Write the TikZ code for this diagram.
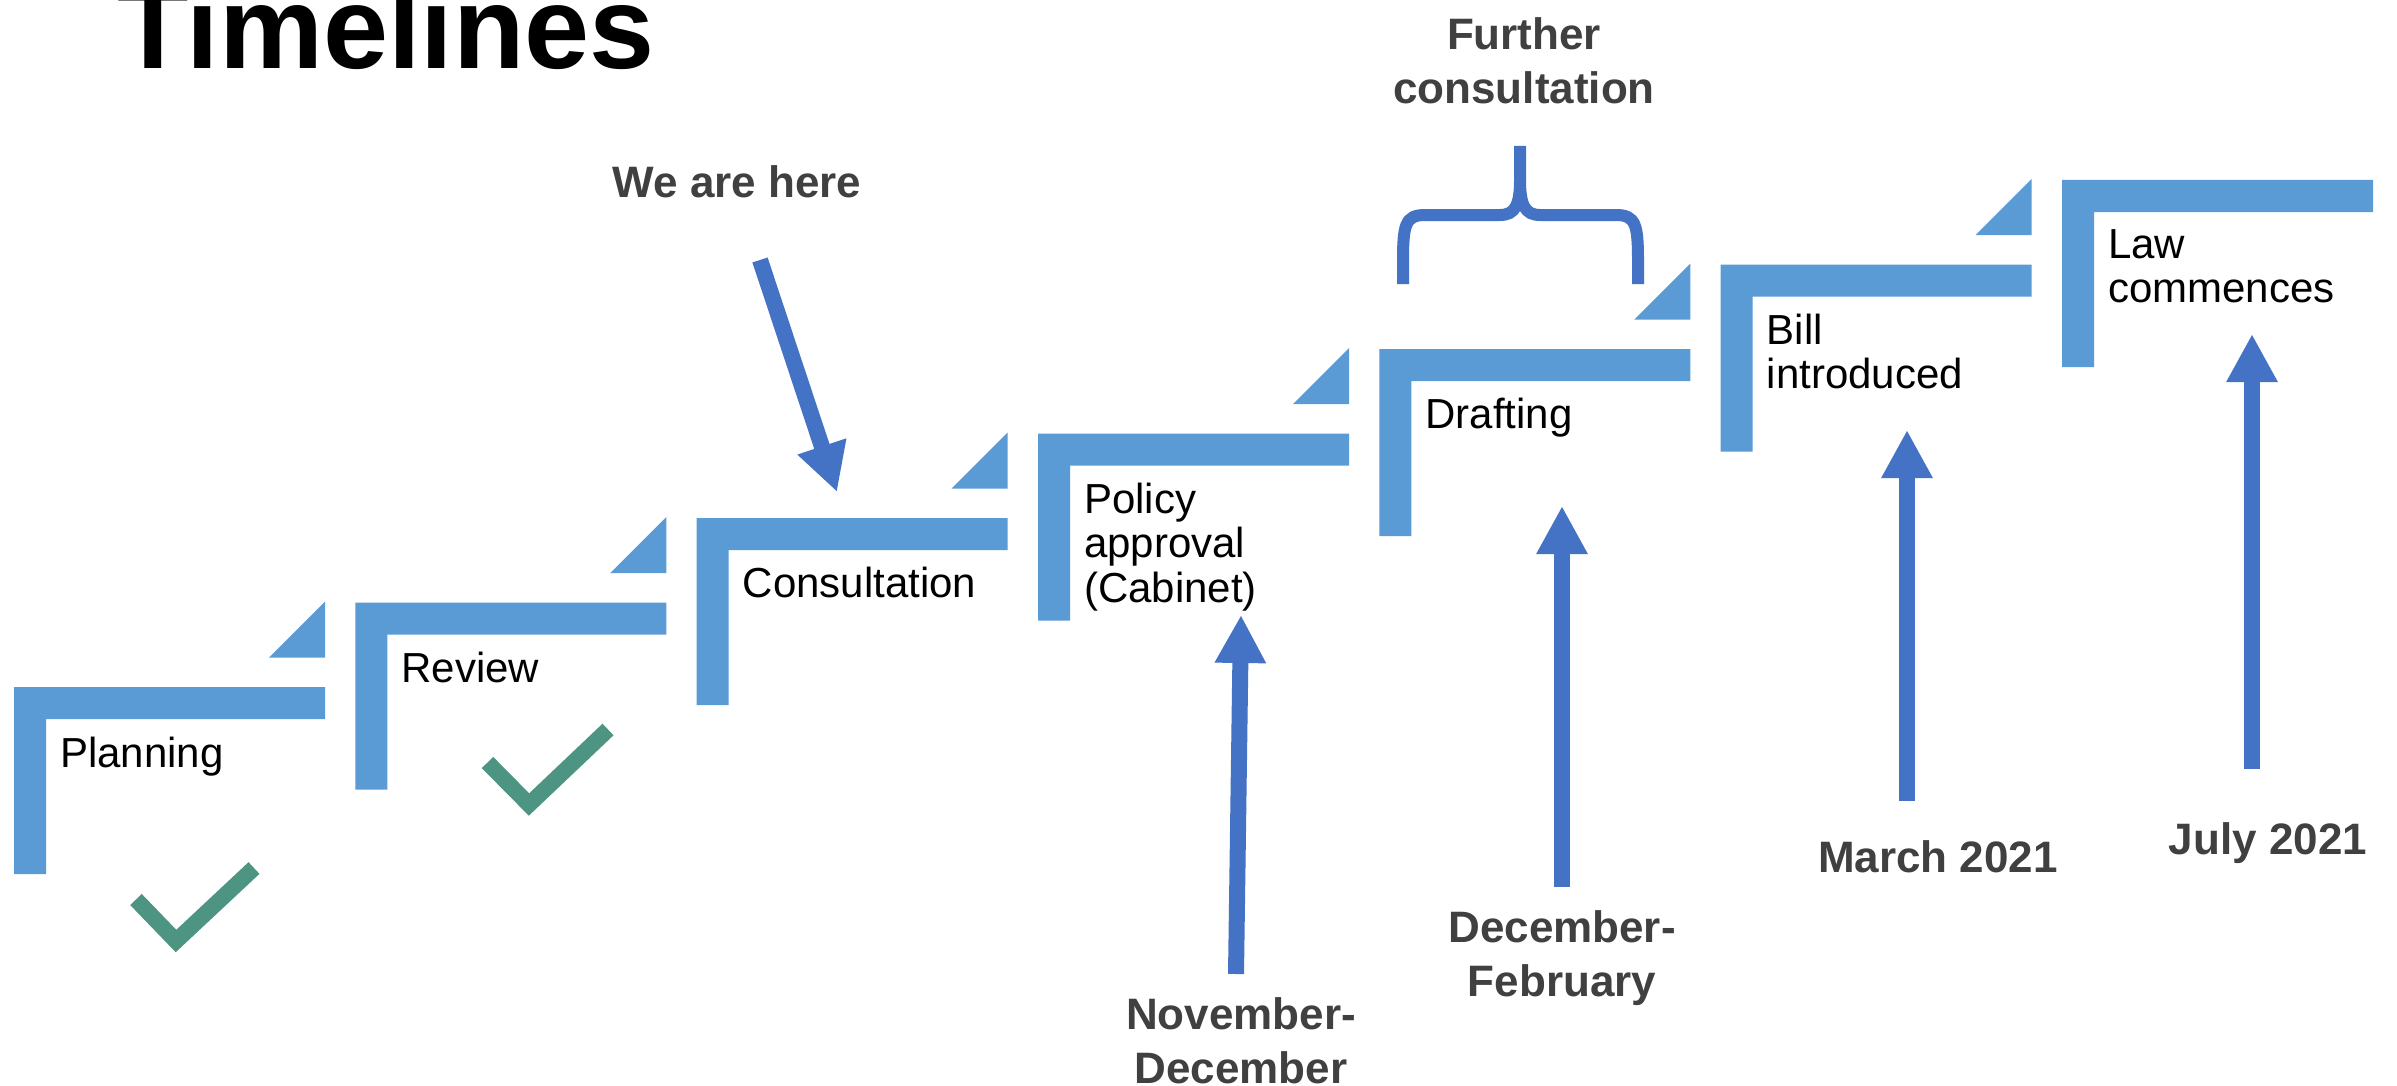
\documentclass[tikz,border=0pt]{standalone}
\usepackage{fontspec}
\setmainfont{Liberation Sans}
\usetikzlibrary{arrows.meta}
\definecolor{stepblue}{HTML}{5B9BD5}
\definecolor{arrowblue}{HTML}{4472C4}
\definecolor{checkgreen}{HTML}{4E9482}
\definecolor{labelgray}{HTML}{404040}
\begin{document}
\begin{tikzpicture}[x=1pt,y=-1pt,
  stepshape/.style={fill=stepblue},
  steplabel/.style={anchor=north west,inner sep=0pt,align=left,text=black,font=\fontsize{42}{44.5}\selectfont},
  datelabel/.style={anchor=north,inner sep=0pt,align=center,text=labelgray,font=\bfseries\fontsize{44}{54}\selectfont},
  pointer/.style={draw=arrowblue,fill=arrowblue,line width=16pt,-{Triangle[width=48pt,length=48pt]}},
  tick/.style={draw=checkgreen,line width=16pt,miter limit=10},
  bracket/.style={draw=arrowblue,line width=12pt}]
\clip (0,0) rectangle (2397,1086);
\fill[white] (0,0) rectangle (2397,1086);
% steps
\foreach \i in {0,...,6} {
  \pgfmathsetmacro\sx{14+341.33*\i}
  \pgfmathsetmacro\st{687-84.5*\i}
  \fill[stepshape] (\sx,\st) -- ++(311,0) -- ++(0,32) -- ++(-279,0) -- ++(0,155) -- ++(-32,0) -- cycle;
}
% triangles
\foreach \i in {0,...,5} {
  \pgfmathsetmacro\rx{14+341.33*\i+311}
  \pgfmathsetmacro\ty{687-84.5*(\i+1)-1}
  \fill[stepshape] (\rx,\ty) -- ++(0,56) -- ++(-56,0) -- cycle;
}
% title
\node[anchor=base west,inner sep=0pt,font=\bfseries\fontsize{117}{120}\selectfont] (title) at (117,69) {Timelines};
% step labels
\node[steplabel] (planning) at (60,737) {Planning};
\node[steplabel] (review) at (401.3,652) {Review};
\node[steplabel] (consult) at (742.7,567) {Consultation};
\node[steplabel] (policy) at (1084,482.5) {Policy\\approval\\(Cabinet)};
\node[steplabel] (drafting) at (1425.3,398) {Drafting};
\node[steplabel] (bill) at (1766.7,313.5) {Bill\\introduced};
\node[steplabel] (law) at (2108,229) {Law\\commences};
% date labels
\node[datelabel] (here) at (737,165) {We are here};
\node[datelabel] (further) at (1524,17) {Further\\consultation};
\node[datelabel] (novdec) at (1241,997) {November-\\December};
\node[datelabel] (decfeb) at (1562,910) {December-\\February};
\node[datelabel] (march) at (1938,840) {March 2021};
\node[datelabel] (july) at (2268,822) {July 2021};
% arrows
\coordinate (hereTail) at (760,260);   \coordinate (hereTip) at (837,492);
\coordinate (novTail) at (1236,974);   \coordinate (novTip) at (1241,615);
\coordinate (decTail) at (1562,887);   \coordinate (decTip) at (1562,506);
\coordinate (marTail) at (1907,801);   \coordinate (marTip) at (1907,430);
\coordinate (julTail) at (2252,769);   \coordinate (julTip) at (2252,334);
\draw[pointer] (hereTail) -- (hereTip);
\draw[pointer] (novTail) -- (novTip);
\draw[pointer] (decTail) -- (decTip);
\draw[pointer] (marTail) -- (marTip);
\draw[pointer] (julTail) -- (julTip);
% brace
\draw[bracket] (1403,284) -- (1403,262) .. controls (1403,225) and (1405,215) .. (1425,215) -- (1500,215) .. controls (1515,215) and (1520,205) .. (1520,180) -- (1520,146)
  (1520,180) .. controls (1520,205) and (1525,215) .. (1540,215) -- (1616,215) .. controls (1636,215) and (1638,225) .. (1638,262) -- (1638,284);
% checkmarks
\draw[tick] (136,899.5) -- (176,941) -- (254,868);
\draw[tick] (487.5,762.5) -- (529,804.5) -- (608,729.5);
\end{tikzpicture}
\end{document}
